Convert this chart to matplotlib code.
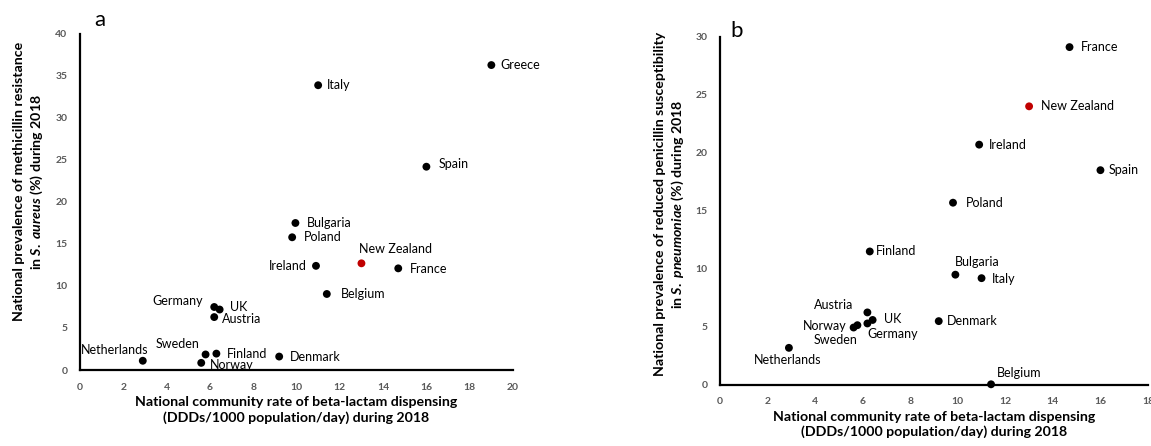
import matplotlib
matplotlib.use("Agg")
import matplotlib.pyplot as plt

# ---------------- data ----------------
countries_a = ["Greece", "Italy", "Spain", "Bulgaria", "Poland", "Ireland", "New Zealand",
               "France", "Belgium", "Germany", "UK", "Austria", "Netherlands", "Sweden",
               "Finland", "Norway", "Denmark"]
x_a = [19.0, 11.0, 16.0, 9.95, 9.8, 10.9, 13.0, 14.7, 11.4, 6.2, 6.45, 6.2, 2.9, 5.8, 6.3, 5.6, 9.2]
y_a = [36.3, 33.9, 24.2, 17.5, 15.8, 12.4, 12.7, 12.1, 9.05, 7.5, 7.2, 6.3, 1.1, 1.85, 1.95, 0.85, 1.6]

countries_b = ["France", "New Zealand", "Ireland", "Spain", "Poland", "Finland", "Bulgaria",
               "Italy", "Austria", "UK", "Germany", "Norway", "Sweden", "Denmark",
               "Netherlands", "Belgium"]
x_b = [14.7, 13.0, 10.9, 16.0, 9.8, 6.3, 9.9, 11.0, 6.2, 6.42, 6.2, 5.62, 5.78, 9.2, 2.9, 11.4]
y_b = [29.1, 24.0, 20.7, 18.5, 15.7, 11.5, 9.5, 9.2, 6.25, 5.6, 5.3, 4.95, 5.15, 5.5, 3.2, 0.06]

highlight = "New Zealand"

xticks_a = [0, 2, 4, 6, 8, 10, 12, 14, 16, 18, 20]
yticks_a = [0, 5, 10, 15, 20, 25, 30, 35, 40]
xticks_b = [0, 2, 4, 6, 8, 10, 12, 14, 16, 18]
yticks_b = [0, 5, 10, 15, 20, 25, 30]

# ---------------- label placement (pixels offset, ha, va) ----------------
lab_a = {
    "Greece": (9, 0, "left", "center"),
    "Italy": (9, 0, "left", "center"),
    "Spain": (12, 3, "left", "center"),
    "Bulgaria": (11, 0, "left", "center"),
    "Poland": (12, 0, "left", "center"),
    "Ireland": (-9, 0, "right", "center"),
    "New Zealand": (-2, 8, "left", "bottom"),
    "France": (12, -1, "left", "center"),
    "Belgium": (14, 0, "left", "center"),
    "Germany": (-11, 6, "right", "center"),
    "UK": (10, 3, "left", "center"),
    "Austria": (8, -2, "left", "center"),
    "Netherlands": (-28, 11, "center", "center"),
    "Sweden": (-28, 10, "center", "center"),
    "Finland": (10, 0, "left", "center"),
    "Norway": (9, -2, "left", "center"),
    "Denmark": (11, 0, "left", "center"),
}
lab_b = {
    "France": (11, 0, "left", "center"),
    "New Zealand": (12, 0, "left", "center"),
    "Ireland": (10, 0, "left", "center"),
    "Spain": (8, 0, "left", "center"),
    "Poland": (13, 0, "left", "center"),
    "Finland": (6, 0, "left", "center"),
    "Bulgaria": (22, 13, "center", "center"),
    "Italy": (10, -1, "left", "center"),
    "Austria": (-14, 7, "right", "center"),
    "UK": (11, 1, "left", "center"),
    "Germany": (0, -11, "left", "center"),
    "Norway": (-7, 2, "right", "center"),
    "Sweden": (0, -15, "right", "center"),
    "Denmark": (8, 0, "left", "center"),
    "Netherlands": (-1, -12, "center", "center"),
    "Belgium": (28, 11, "center", "center"),
}

plt.rcParams["font.family"] = ["Lato", "DejaVu Sans"]
plt.rcParams["mathtext.fontset"] = "custom"
plt.rcParams["mathtext.it"] = "Lato:italic:bold"
plt.rcParams["mathtext.rm"] = "Lato:bold"

fig = plt.figure(figsize=(11.51, 4.46), dpi=100)
ax_a = fig.add_axes([0.0695, 0.1704, 0.3762, 0.7534])
ax_b = fig.add_axes([0.6255, 0.1368, 0.3719, 0.7810])

BLACK = "#000000"
RED = "#C00000"
TICK = "#595959"


def draw(ax, names, xs, ys, labels, xt, yt):
    cols = [RED if n == highlight else BLACK for n in names]
    ax.scatter(xs, ys, s=32, c=cols, zorder=3, clip_on=False, linewidths=0)
    for n, x, y in zip(names, xs, ys):
        dx, dy, ha, va = labels[n]
        ax.annotate(n, (x, y), xytext=(dx, dy), textcoords="offset pixels",
                    ha=ha, va=va, fontsize=9, color="#000000")
    ax.set_xlim(xt[0], xt[-1])
    ax.set_ylim(yt[0], yt[-1])
    ax.set_xticks(xt)
    ax.set_yticks(yt)
    for s in ("top", "right"):
        ax.spines[s].set_visible(False)
    for s in ("left", "bottom"):
        ax.spines[s].set_linewidth(1.6)
        ax.spines[s].set_color("black")
    ax.tick_params(length=0, pad=9, labelsize=7.5, labelcolor=TICK)
    for lab in ax.get_xticklabels() + ax.get_yticklabels():
        lab.set_fontweight("bold")


draw(ax_a, countries_a, x_a, y_a, lab_a, xticks_a, yticks_a)
draw(ax_b, countries_b, x_b, y_b, lab_b, xticks_b, yticks_b)

xlabel = "National community rate of beta-lactam dispensing\n(DDDs/1000 population/day) during 2018"
LS = 10.2
ax_a.set_xlabel(xlabel, fontsize=LS, fontweight="bold", labelpad=3, linespacing=1.3)
ax_b.set_xlabel(xlabel, fontsize=LS, fontweight="bold", labelpad=3, linespacing=1.3)
ax_a.set_ylabel("National prevalence of methicillin resistance\nin $S.\\ aureus$ (%) during 2018",
                fontsize=LS, fontweight="bold", linespacing=1.3)
ax_b.set_ylabel("National prevalence of reduced penicillin susceptibility\nin $S.\\ pneumoniae$ (%) during 2018",
                fontsize=LS, fontweight="bold", linespacing=1.3)
ax_a.yaxis.set_label_coords(-0.081, 0.56)
ax_b.yaxis.set_label_coords(-0.079, 0.52)

fig.text(100 / 1151, 1 - 20 / 446, "a", fontsize=16, ha="center", va="center")
fig.text(737 / 1151, 1 - 31 / 446, "b", fontsize=16, ha="center", va="center")

fig.savefig("out.png", dpi=100)
